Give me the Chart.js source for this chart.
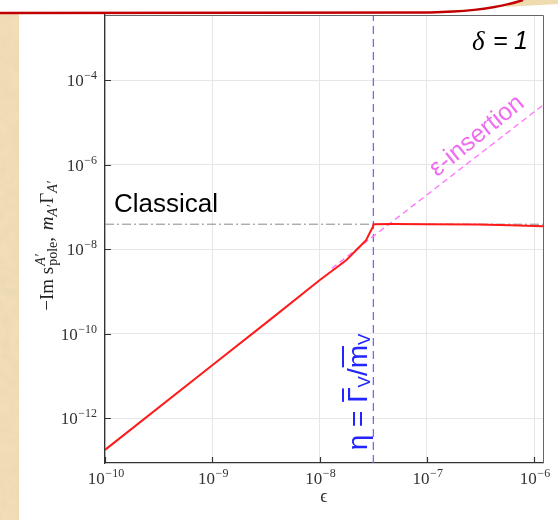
<!DOCTYPE html>
<html><head><meta charset="utf-8">
<script src="https://cdn.jsdelivr.net/npm/chart.js@4.4.1/dist/chart.umd.min.js"></script>
<style>
html,body{margin:0;padding:0;background:#fff;}
#wrap{position:relative;width:558px;height:520px;overflow:hidden;background:#fff;}
#bg{position:absolute;left:0;top:0;}
#c{position:absolute;left:0;top:0;}
</style></head><body>
<div id="wrap">
<svg id="bg" width="558" height="520" xmlns="http://www.w3.org/2000/svg">
<defs>
<filter id="tex" x="0" y="0" width="1" height="1">
<feTurbulence type="fractalNoise" baseFrequency="0.09" numOctaves="3" seed="4"/>
<feColorMatrix values="0 0 0 0 0.80  0 0 0 0 0.66  0 0 0 0 0.42  0 0 0 0.9 -0.25"/>
</filter>
</defs>
<rect x="0" y="13" width="19" height="507" fill="#f1deb6"/>
<rect x="0" y="13" width="19" height="507" fill="#000" filter="url(#tex)"/>
<path d="M505,7 C512,4.5 517,2 522,0 L558,0 L558,4 L540,5 Z" fill="#efdbb0"/>
<path d="M0,13 L430,12.4 C470,11.9 498,8.5 523,0" stroke="#c00000" stroke-width="2.5" fill="none"/>
</svg>
<canvas id="c" width="558" height="520"></canvas>
</div>
<script>
// ---- data ----
const xRange = [1e-10, 1.213e-6];
const yRange = [8.8e-14, 3.45e-3];
const xTicks = [1e-10, 1e-9, 1e-8, 1e-7, 1e-6];
const xTickLabels = [['10', '−10'], ['10', '−9'], ['10', '−8'], ['10', '−7'], ['10', '−6']];
const yTicks = [1e-12, 1e-10, 1e-8, 1e-6, 1e-4];
const yTickLabels = [['10', '−12'], ['10', '−10'], ['10', '−8'], ['10', '−6'], ['10', '−4']];

const epsRed = [1e-10, 1e-9, 3.42e-9, 1e-8, 1.774e-8, 2.535e-8, 2.72e-8, 2.92e-8, 3.03e-8, 3.14e-8, 3.21e-8, 5e-8, 1e-7, 3e-7, 6e-7, 1.213e-6];
const valRed = [1.8e-13, 1.8e-11, 2.1e-10, 1.85e-9, 5.5e-9, 1.36e-8, 1.63e-8, 2.35e-8, 2.81e-8, 3.37e-8, 3.9e-8, 3.92e-8, 3.9e-8, 3.83e-8, 3.7e-8, 3.5e-8];

const epsPink = [1.3e-8, 1.213e-6];
const valPink = [3.5e-9, 2.56e-5];

const classicalLevel = 3.9e-8;
const etaEps = 3.18e-8;

const pts = (xs, ys) => xs.map((x, i) => ({x, y: ys[i]}));

function rich(ctx, pieces, cx, cy, angle, baseY, color) {
  ctx.save();
  ctx.translate(cx, cy);
  ctx.rotate(angle);
  ctx.fillStyle = color;
  ctx.textBaseline = 'alphabetic';
  ctx.textAlign = 'left';
  let w = 0;
  const xs = [];
  for (const p of pieces) {
    ctx.font = p.f;
    const m = ctx.measureText(p.t).width;
    xs.push(w);
    if (p.adv !== false) w += m + (p.gap || 0);
  }
  const x0 = -w / 2;
  pieces.forEach((p, i) => {
    ctx.font = p.f;
    ctx.fillText(p.t, x0 + xs[i], baseY + (p.dy || 0));
    if (p.bar) {
      const m = ctx.measureText(p.t).width;
      ctx.fillRect(x0 + xs[i] + p.bar[0], baseY + p.bar[1], m - p.bar[0] - p.bar[2], 2);
    }
  });
  ctx.restore();
}

const BASE_FONT = '17px "Liberation Serif"';
const EXP_FONT = '12px "Liberation Serif"';
function powLabel(ctx, lab, x, y, align) {
  ctx.font = BASE_FONT;
  const w1 = ctx.measureText(lab[0]).width;
  ctx.font = EXP_FONT;
  const w2 = ctx.measureText(lab[1]).width;
  const w = w1 + w2 + 0.5;
  const x0 = align === 'center' ? x - w / 2 : x - w;
  ctx.font = BASE_FONT;
  ctx.fillText(lab[0], x0, y);
  ctx.font = EXP_FONT;
  ctx.fillText(lab[1], x0 + w1 + 0.5, y - 7);
}

const deco = {
  id: 'deco',
  afterDraw(chart) {
    const {ctx, chartArea: a} = chart;
    const xs = chart.scales.x, ys = chart.scales.y;
    ctx.save();
    // frame
    ctx.strokeStyle = '#666';
    ctx.lineWidth = 1;
    ctx.beginPath();
    ctx.moveTo(a.left, a.top + 0.5); ctx.lineTo(a.right + 0.5, a.top + 0.5); ctx.lineTo(a.right + 0.5, a.bottom);
    ctx.stroke();
    // inward ticks
    ctx.strokeStyle = '#333';
    ctx.lineWidth = 1.2;
    ctx.beginPath();
    xTicks.forEach(v => { const p = Math.round(xs.getPixelForValue(v)) + 0.5; ctx.moveTo(p, a.bottom); ctx.lineTo(p, a.bottom - 6); });
    yTicks.forEach(v => { const p = Math.round(ys.getPixelForValue(v)) + 0.5; ctx.moveTo(a.left, p); ctx.lineTo(a.left + 6, p); });
    ctx.stroke();
    // tick labels
    ctx.fillStyle = '#333';
    ctx.textBaseline = 'alphabetic';
    ctx.textAlign = 'left';
    xTicks.forEach((v, i) => powLabel(ctx, xTickLabels[i], xs.getPixelForValue(v) + 1, a.bottom + 21, 'center'));
    yTicks.forEach((v, i) => powLabel(ctx, yTickLabels[i], a.left - 8, ys.getPixelForValue(v) + 6, 'right'));
    ctx.restore();

    // annotations
    ctx.save();
    ctx.fillStyle = '#000';
    ctx.font = '26px "Liberation Sans"';
    ctx.textBaseline = 'alphabetic';
    ctx.fillText('Classical', 114, 212);
    ctx.font = 'italic 27px "Liberation Serif"';
    ctx.fillText('δ', 472, 50);
    ctx.font = 'italic 25px "Liberation Sans"';
    ctx.fillText('=', 493, 49);
    ctx.fillText('1', 514, 49);
    // epsilon insertion
    ctx.save();
    ctx.translate(477, 136);
    ctx.rotate(-39 * Math.PI / 180);
    ctx.fillStyle = '#f06cf0';
    ctx.font = '25px "Liberation Sans"';
    ctx.textAlign = 'center';
    ctx.textBaseline = 'middle';
    ctx.fillText('ε-insertion', 0, 0);
    ctx.restore();
    ctx.restore();

    // eta label (rotated)
    rich(ctx, [
      {t: 'η = ', f: '28px "Liberation Sans"'},
      {t: 'Γ', f: '28px "Liberation Sans"', bar: [1, -25, 1]},
      {t: 'V', f: '17px "Liberation Sans"', dy: 3},
      {t: '/', f: '28px "Liberation Sans"'},
      {t: 'm', f: '28px "Liberation Sans"', bar: [1, -25, 1]},
      {t: 'V', f: '17px "Liberation Sans"', dy: 3}
    ], 357, 392, -Math.PI / 2, 10, '#2424ff');

    // y axis title
    rich(ctx, [
      {t: '−Im s', f: '19px "Liberation Serif"', gap: 1},
      {t: 'A′', f: 'italic 14px "Liberation Serif"', dy: -8, adv: false},
      {t: 'pole', f: '14px "Liberation Serif"', dy: 4},
      {t: ', ', f: '19px "Liberation Serif"', gap: 2},
      {t: 'm', f: 'italic 19px "Liberation Serif"'},
      {t: 'A′', f: 'italic 14px "Liberation Serif"', dy: 4, gap: 1},
      {t: 'Γ', f: '19px "Liberation Serif"'},
      {t: 'A′', f: 'italic 14px "Liberation Serif"', dy: 4}
    ], 46, 246, -Math.PI / 2, 7, '#222');
  }
};

new Chart(document.getElementById('c'), {
  type: 'line',
  data: {
    datasets: [
      {data: pts(epsRed, valRed), borderColor: '#ff1a1a', borderWidth: 2, pointRadius: 0, tension: 0},
      {data: pts(epsPink, valPink), borderColor: '#ff70ff', borderWidth: 1.3, borderDash: [6, 4], pointRadius: 0},
      {data: pts([etaEps, etaEps], yRange), borderColor: '#6b6bff', borderWidth: 1.3, borderDash: [8, 5], pointRadius: 0},
      {data: pts(xRange, [classicalLevel, classicalLevel]), borderColor: '#888', borderWidth: 1, borderDash: [9, 3, 2, 3], pointRadius: 0}
    ]
  },
  options: {
    responsive: false,
    animation: false,
    devicePixelRatio: 1,
    layout: {padding: {left: 0, right: 15, top: 15, bottom: 0}},
    plugins: {legend: {display: false}, tooltip: {enabled: false}},
    scales: {
      x: {
        type: 'logarithmic', min: xRange[0], max: xRange[1],
        afterBuildTicks: s => { s.ticks = xTicks.map(v => ({value: v})); },
        afterFit: s => { s.height = 57; },
        grid: {color: '#e6e6e6', drawTicks: false},
        border: {color: '#333', width: 1.3},
        ticks: {display: false, autoSkip: false, maxRotation: 0},
        title: {display: true, text: 'ϵ', color: '#333', font: {family: 'Liberation Serif', size: 18}, padding: {top: 0, bottom: 12}}
      },
      y: {
        type: 'logarithmic', min: yRange[0], max: yRange[1],
        afterBuildTicks: s => { s.ticks = yTicks.map(v => ({value: v})); },
        afterFit: s => { s.width = 105; },
        grid: {color: '#e6e6e6', drawTicks: false},
        border: {color: '#333', width: 1.3},
        ticks: {display: false, autoSkip: false}
      }
    }
  },
  plugins: [deco]
});
</script>
</body></html>
